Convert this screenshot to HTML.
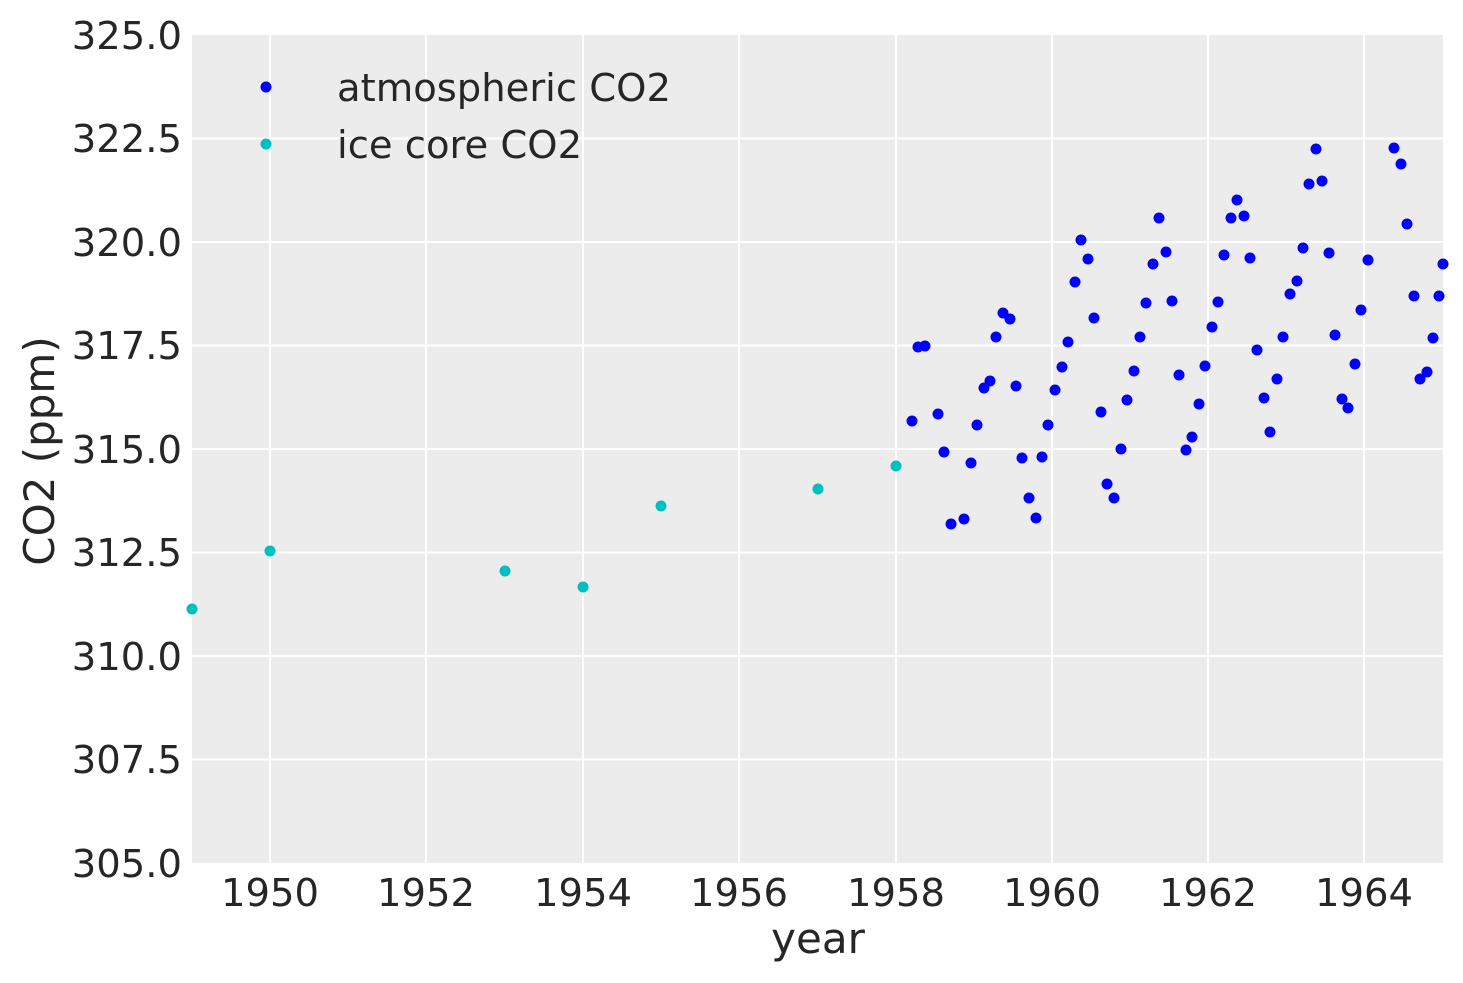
<!DOCTYPE html>
<html><head><meta charset="utf-8"><style>
body{margin:0;background:#fff}
svg{display:block}
text{font-family:"DejaVu Sans","Liberation Sans",sans-serif;fill:#262626}
</style></head><body>
<svg width="1463" height="983" xmlns="http://www.w3.org/2000/svg">
<rect x="192" y="35" width="1251" height="828" fill="#ececec"/>
<g stroke="#fff" stroke-width="2">
<line x1="270" y1="35" x2="270" y2="863"/><line x1="426" y1="35" x2="426" y2="863"/>
<line x1="583" y1="35" x2="583" y2="863"/><line x1="739" y1="35" x2="739" y2="863"/>
<line x1="896" y1="35" x2="896" y2="863"/><line x1="1052" y1="35" x2="1052" y2="863"/>
<line x1="1208" y1="35" x2="1208" y2="863"/><line x1="1364" y1="35" x2="1364" y2="863"/>
<line x1="192" y1="138.5" x2="1443" y2="138.5"/><line x1="192" y1="242" x2="1443" y2="242"/>
<line x1="192" y1="345.5" x2="1443" y2="345.5"/><line x1="192" y1="449" x2="1443" y2="449"/>
<line x1="192" y1="552.5" x2="1443" y2="552.5"/><line x1="192" y1="656" x2="1443" y2="656"/>
<line x1="192" y1="759.5" x2="1443" y2="759.5"/>
</g>
<g font-size="38.5" text-anchor="end">
<text x="182" y="49">325.0</text><text x="182" y="152">322.5</text><text x="182" y="256">320.0</text>
<text x="182" y="359">317.5</text><text x="182" y="463">315.0</text><text x="182" y="566">312.5</text>
<text x="182" y="670">310.0</text><text x="182" y="773">307.5</text><text x="182" y="877">305.0</text>
</g>
<g font-size="38.5" text-anchor="middle">
<text x="270" y="906">1950</text><text x="426" y="906">1952</text><text x="583" y="906">1954</text>
<text x="739" y="906">1956</text><text x="896" y="906">1958</text><text x="1052" y="906">1960</text>
<text x="1208" y="906">1962</text><text x="1364" y="906">1964</text>
</g>
<text x="818" y="953" font-size="42" text-anchor="middle">year</text>
<text transform="translate(54,451) rotate(-90)" font-size="42" text-anchor="middle">CO2 (ppm)</text>
<g fill="#0000ff">
<circle cx="912" cy="421" r="5.5"/><circle cx="918" cy="347" r="5.5"/><circle cx="925" cy="346" r="5.5"/><circle cx="938" cy="414" r="5.5"/><circle cx="944" cy="452" r="5.5"/><circle cx="951" cy="524" r="5.5"/><circle cx="964" cy="519" r="5.5"/><circle cx="971" cy="463" r="5.5"/><circle cx="977" cy="425" r="5.5"/><circle cx="984" cy="388" r="5.5"/><circle cx="990" cy="381" r="5.5"/><circle cx="996" cy="337" r="5.5"/><circle cx="1003" cy="313" r="5.5"/><circle cx="1010" cy="319" r="5.5"/><circle cx="1016" cy="386" r="5.5"/><circle cx="1022" cy="458" r="5.5"/><circle cx="1029" cy="498" r="5.5"/><circle cx="1036" cy="518" r="5.5"/><circle cx="1042" cy="457" r="5.5"/><circle cx="1048" cy="425" r="5.5"/><circle cx="1055" cy="390" r="5.5"/><circle cx="1062" cy="367" r="5.5"/><circle cx="1068" cy="342" r="5.5"/><circle cx="1075" cy="282" r="5.5"/><circle cx="1081" cy="240" r="5.5"/><circle cx="1088" cy="259" r="5.5"/><circle cx="1094" cy="318" r="5.5"/><circle cx="1101" cy="412" r="5.5"/><circle cx="1107" cy="484" r="5.5"/><circle cx="1114" cy="498" r="5.5"/><circle cx="1121" cy="449" r="5.5"/><circle cx="1127" cy="400" r="5.5"/><circle cx="1134" cy="371" r="5.5"/><circle cx="1140" cy="337" r="5.5"/><circle cx="1146" cy="303" r="5.5"/><circle cx="1153" cy="264" r="5.5"/><circle cx="1159" cy="218" r="5.5"/><circle cx="1166" cy="252" r="5.5"/><circle cx="1172" cy="301" r="5.5"/><circle cx="1179" cy="375" r="5.5"/><circle cx="1186" cy="450" r="5.5"/><circle cx="1192" cy="437" r="5.5"/><circle cx="1199" cy="404" r="5.5"/><circle cx="1205" cy="366" r="5.5"/><circle cx="1212" cy="327" r="5.5"/><circle cx="1218" cy="302" r="5.5"/><circle cx="1224" cy="255" r="5.5"/><circle cx="1231" cy="218" r="5.5"/><circle cx="1237" cy="200" r="5.5"/><circle cx="1244" cy="216" r="5.5"/><circle cx="1250" cy="258" r="5.5"/><circle cx="1257" cy="350" r="5.5"/><circle cx="1264" cy="398" r="5.5"/><circle cx="1270" cy="432" r="5.5"/><circle cx="1277" cy="379" r="5.5"/><circle cx="1283" cy="337" r="5.5"/><circle cx="1290" cy="294" r="5.5"/><circle cx="1297" cy="281" r="5.5"/><circle cx="1303" cy="248" r="5.5"/><circle cx="1309" cy="184" r="5.5"/><circle cx="1316" cy="149" r="5.5"/><circle cx="1322" cy="181" r="5.5"/><circle cx="1329" cy="253" r="5.5"/><circle cx="1335" cy="335" r="5.5"/><circle cx="1342" cy="399" r="5.5"/><circle cx="1348" cy="408" r="5.5"/><circle cx="1355" cy="364" r="5.5"/><circle cx="1361" cy="310" r="5.5"/><circle cx="1368" cy="260" r="5.5"/><circle cx="1394" cy="148" r="5.5"/><circle cx="1401" cy="164" r="5.5"/><circle cx="1407" cy="224" r="5.5"/><circle cx="1414" cy="296" r="5.5"/><circle cx="1420" cy="379" r="5.5"/><circle cx="1427" cy="372" r="5.5"/><circle cx="1433" cy="338" r="5.5"/><circle cx="1439" cy="296" r="5.5"/><circle cx="1443" cy="264" r="5.5"/>
<circle cx="266" cy="87" r="5.5"/>
</g>
<g fill="#00bfbf">
<circle cx="192" cy="609" r="5.5"/><circle cx="270" cy="551" r="5.5"/><circle cx="505" cy="571" r="5.5"/><circle cx="583" cy="587" r="5.5"/><circle cx="661" cy="506" r="5.5"/><circle cx="818" cy="489" r="5.5"/><circle cx="896" cy="466" r="5.5"/>
<circle cx="266" cy="144" r="5.5"/>
</g>
<text x="337" y="101" font-size="38.5">atmospheric CO2</text>
<text x="337" y="158" font-size="38.5">ice core CO2</text>
</svg>
</body></html>
